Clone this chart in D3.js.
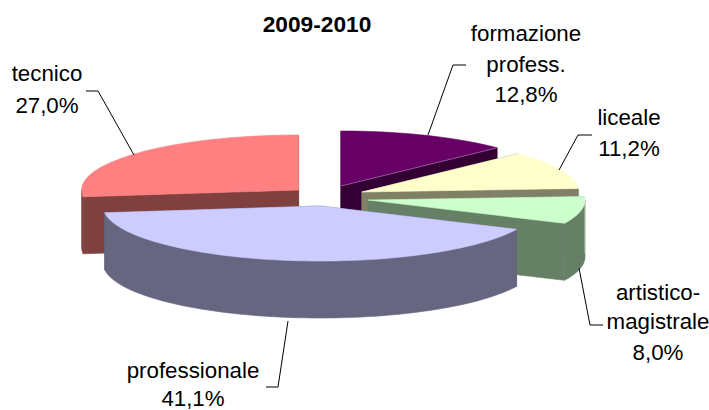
<!DOCTYPE html>
<html><head><meta charset="utf-8">
<script src="https://cdn.jsdelivr.net/npm/d3@7"></script>
<style>html,body{margin:0;background:#fff}svg{display:block}text{font-family:"Liberation Sans",Arial,sans-serif;fill:#000}</style>
</head><body><svg id="c" width="709" height="410"></svg>
<script>
const title = "2009-2010";
const categories = ["formazione profess.","liceale","artistico-magistrale","professionale","tecnico"];
const values = [12.8,11.2,8.0,41.1,27.0];
const valueLabels = ["12,8%","11,2%","8,0%","41,1%","27,0%"];
const topColors = ["#660066","#FFFFCC","#CCFFCC","#CCCCFF","#FF8080"];
const sideColors = ["#330033","#808066","#668066","#666680","#804040"];
const sliceOffsetX = [0.0876,0.184,0.212,-0.009,-0.108];
const sliceOffsetY = [-0.182,-0.073,0.073,0.182,-0.109];
const labelLines = [["formazione","profess.",valueLabels[0]],["liceale",valueLabels[1]],["artistico-","magistrale",valueLabels[2]],["professionale",valueLabels[3]],["tecnico",valueLabels[4]]];
const labelCenters = [526,629,658,193,47];
const labelBaselines = [[41,72,102],[125,156],[300,329,360],[378,406],[81,113]];
const leaders = [[[428,135],[453,65],[466,65]],[[559,170],[578,135],[592,135]],[[579,268],[590,325],[603,325]],[[288,321],[278,387],[266,387]],[[134,155],[98,91],[86,91]]];

const cx=322,cy=196,rx=217,ry=55,depth=57,fs=22.3;
const svg=d3.select("#c");
const sx=d3.scaleLinear().domain([-1,1]).range([cx-rx,cx+rx]);
const sy=d3.scaleLinear().domain([-1,1]).range([cy-ry,cy+ry]);
const pie=d3.pie().sort(null).value(d=>d)(values);
pie.forEach((p,i)=>{p.off=[sliceOffsetX[i],sliceOffsetY[i]];p.i=i});
const pt=(a,o,r=1,dz=0)=>[sx(Math.sin(a)*r+o[0]),sy(-Math.cos(a)*r+o[1])+dz];
const line=d3.line();
const arcPts=(a0,a1,o,dz,rev)=>{const n=Math.max(4,Math.round((a1-a0)*30));const r=d3.range(n+1).map(k=>pt(a0+(a1-a0)*k/n,o,1,dz));return rev?r.reverse():r};
function drawSlice(p){
  const g=svg.append("g"),i=p.i,o=p.off,c=pt(0,o,0),c2=pt(0,o,0,depth);
  const s=pt(p.startAngle,o),s2=pt(p.startAngle,o,1,depth),e=pt(p.endAngle,o),e2=pt(p.endAngle,o,1,depth);
  const face=(pts,fill)=>g.append("path").attr("d",line(pts)+"Z").attr("fill",fill).attr("stroke",fill).attr("stroke-width",.6);
  face([c,s,s2,c2],sideColors[i]);
  face([c,e,e2,c2],sideColors[i]);
  const a0=Math.max(p.startAngle,Math.PI/2),a1=Math.min(p.endAngle,Math.PI*1.5);
  if(a1>a0) face(arcPts(a0,a1,o,0,false).concat(arcPts(a0,a1,o,depth,true)),sideColors[i]);
  face([c].concat(arcPts(p.startAngle,p.endAngle,o,0,false)),topColors[i]);
  const hl=pts=>g.append("path").attr("d",line(pts)).attr("fill","none").attr("stroke","#fff").attr("stroke-opacity",.3).attr("stroke-width",1);
  if(i===0) hl([c,e]);
  if(i===2) hl([s,s2]);
}
[4,0,1,2,3].forEach(i=>drawSlice(pie[i]));

leaders.forEach(l=>svg.append("path").attr("d",line(l)).attr("fill","none").attr("stroke","#000").attr("stroke-width",1));
svg.append("text").attr("x",317).attr("y",32).attr("text-anchor","middle").attr("font-size",22.7).attr("font-weight","bold").text(title);
labelLines.forEach((ls,i)=>{ls.forEach((t,k)=>svg.append("text").attr("x",labelCenters[i]).attr("y",labelBaselines[i][k]).attr("text-anchor","middle").attr("font-size",fs).text(t))});
</script></body></html>
